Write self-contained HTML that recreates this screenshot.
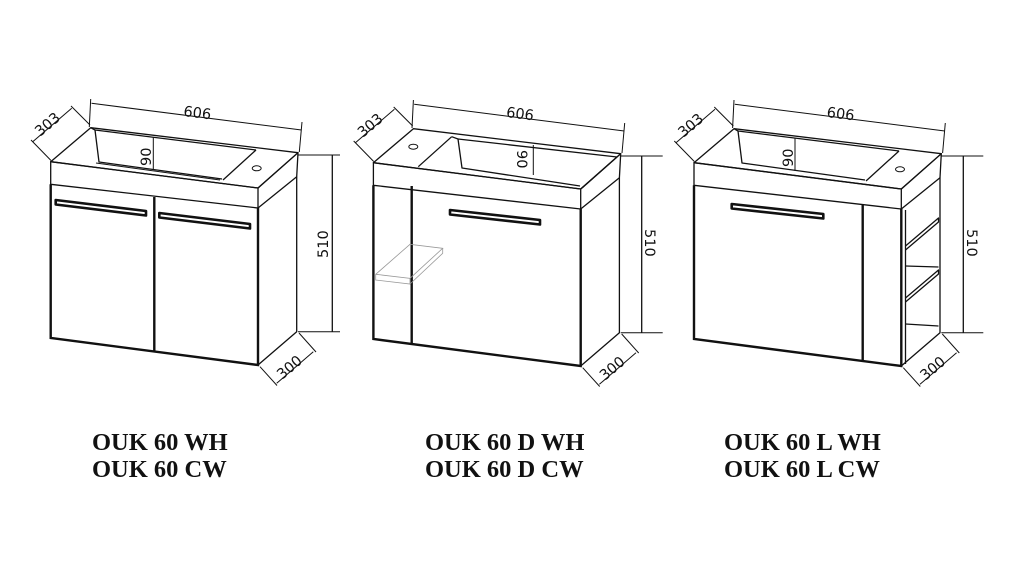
<!DOCTYPE html>
<html><head><meta charset="utf-8"><style>
html,body{margin:0;padding:0;background:#fff;width:1019px;height:572px;overflow:hidden}
svg{display:block}
.l{fill:none;stroke:#111;stroke-width:1.3;stroke-linejoin:round}
.t{fill:none;stroke:#111;stroke-width:2.4}
.h{fill:#fff;stroke:#111;stroke-width:2.6;stroke-linejoin:round}
.d{fill:none;stroke:#111;stroke-width:1}
.g{fill:none;stroke:#999;stroke-width:0.8}
.dt{font-family:"DejaVu Sans","Liberation Sans",sans-serif;font-size:14.5px;fill:#111}
.lb{font-family:"Liberation Serif",serif;font-weight:bold;font-size:24.5px;fill:#111}
</style></head><body>
<svg width="1019" height="572" viewBox="0 0 1019 572" xmlns="http://www.w3.org/2000/svg">
<defs>
<g id="body">
  <polygon class="l" points="50.7,161.7 90.7,127.7 298,152.7 258,188"/>
  <polygon class="l" points="50.7,161.7 258,188 258,208 50.7,184.3"/>
  <polyline class="l" points="258,188 298,152.7 296.7,176.7 258,208"/>
  <polyline class="t" points="50.7,184.3 50.7,338 258,365 258,208"/>
  <polyline class="l" points="258,365 296.7,331.7 296.7,176.7"/>
  <line class="d" x1="90.7" y1="99" x2="89.3" y2="127"/>
  <line class="d" x1="302" y1="122" x2="299.3" y2="152"/>
  <line class="d" x1="91.5" y1="103.3" x2="301.5" y2="130"/>
  <text class="dt" transform="translate(183,116) rotate(7)">606</text>
  <line class="d" x1="71" y1="106" x2="90" y2="125"/>
  <line class="d" x1="31" y1="140" x2="51" y2="160.5"/>
  <line class="d" x1="32.7" y1="141.7" x2="71.7" y2="108.3"/>
  <text class="dt" transform="translate(40,137) rotate(-40)">303</text>
  <line class="d" x1="298" y1="155" x2="340" y2="155"/>
  <line class="d" x1="298" y1="331.7" x2="340" y2="331.7"/>
  <line class="d" x1="260" y1="366.7" x2="277" y2="385.5"/>
  <line class="d" x1="299" y1="333" x2="316" y2="352"/>
  <line class="d" x1="276.7" y1="383.3" x2="313.3" y2="351.7"/>
  <text class="dt" transform="translate(282,380) rotate(-40)">300</text>
</g>
</defs>

<use href="#body"/>
<line class="l" x1="332.3" y1="155" x2="332.3" y2="331.7"/>
<text class="dt" transform="translate(328,258) rotate(-90)">510</text>
<line class="t" x1="154.3" y1="197" x2="154.3" y2="351"/>
<polygon class="h" points="55.7,200 146,211 146,215.5 55.7,204.5"/>
<polygon class="h" points="159.3,213 250,224 250,228.5 159.3,217.5"/>
<polyline class="l" points="90.7,127.7 95,130 99,162 222,179"/>
<line class="l" x1="95" y1="130" x2="256" y2="150"/>
<line class="l" x1="256" y1="150" x2="223" y2="180"/>
<line class="d" x1="96" y1="163" x2="220" y2="180" stroke="#777"/>
<ellipse class="d" cx="256.7" cy="168.3" rx="4.5" ry="2.5"/>
<line class="d" x1="153.3" y1="137" x2="153.3" y2="170"/>
<text class="dt" transform="translate(151,166) rotate(-90)">90</text>

<g transform="translate(322.7,1)"><use href="#body"/></g>
<line class="l" x1="641.7" y1="156" x2="641.7" y2="332.7"/>
<text class="dt" transform="translate(645,229) rotate(90)">510</text>
<line class="t" x1="411.7" y1="186" x2="411.7" y2="345"/>
<polygon class="h" points="450,210 540,220 540,224.5 450,214.5"/>
<line class="l" x1="451.7" y1="136.7" x2="418.3" y2="166.7"/>
<polyline class="l" points="451.7,136.7 458,139 462,168 580,186"/>
<line class="l" x1="458" y1="139" x2="617" y2="157"/>
<line class="l" x1="617" y1="157" x2="582" y2="188"/>
<ellipse class="d" cx="413.3" cy="146.7" rx="4.5" ry="2.5"/>
<line class="d" x1="533.3" y1="145" x2="533.3" y2="175"/>
<text class="dt" transform="translate(517,150) rotate(90)">90</text>
<polygon class="g" points="375.7,274.3 410,278.3 410,284 375.7,280"/>
<polyline class="g" points="375.7,274.3 410,244.3 442.7,248.3 410,278.3"/>
<polyline class="g" points="442.7,248.3 442.7,253.3 410,284"/>

<g transform="translate(643.3,1)"><use href="#body"/></g>
<line class="l" x1="963.3" y1="156" x2="963.3" y2="332.7"/>
<text class="dt" transform="translate(967,229) rotate(90)">510</text>
<line class="t" x1="862.7" y1="204" x2="862.7" y2="360"/>
<line class="l" x1="905.5" y1="210" x2="905.5" y2="364"/>
<polyline class="l" points="905.5,246 938.5,218 938.5,222 905.5,250"/>
<polyline class="l" points="905.5,266 938.5,267"/>
<polyline class="l" points="905.5,298 938.5,270 938.5,274 905.5,302"/>
<polyline class="l" points="905.5,324 938.5,326"/>
<polygon class="h" points="731.7,204 823.3,214 823.3,218.5 731.7,208.5"/>
<polyline class="l" points="734,128.7 738,131 742,163 865,180"/>
<line class="l" x1="738" y1="131" x2="899" y2="151"/>
<line class="l" x1="899" y1="151" x2="866" y2="181"/>
<ellipse class="d" cx="900" cy="169.3" rx="4.5" ry="2.5"/>
<line class="d" x1="795" y1="138" x2="795" y2="171"/>
<text class="dt" transform="translate(793,167) rotate(-90)">90</text>

<text class="lb" x="92" y="450">OUK 60 WH</text>
<text class="lb" x="92" y="477">OUK 60 CW</text>
<text class="lb" x="425" y="450">OUK 60 D WH</text>
<text class="lb" x="425" y="477">OUK 60 D CW</text>
<text class="lb" x="724" y="450">OUK 60 L WH</text>
<text class="lb" x="724" y="477">OUK 60 L CW</text>
</svg>
</body></html>
